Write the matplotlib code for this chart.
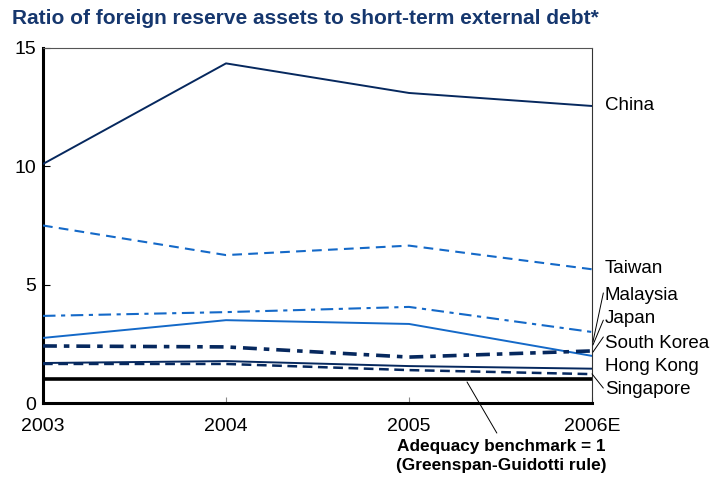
import matplotlib
matplotlib.use("Agg")
import matplotlib.pyplot as plt

plt.rcParams['font.family'] = ['Liberation Sans', 'DejaVu Sans']
plt.rcParams['lines.scale_dashes'] = False

years = ["2003", "2004", "2005", "2006E"]
china = [10.1, 14.35, 13.1, 12.55]
taiwan = [7.5, 6.25, 6.65, 5.65]
malaysia = [3.68, 3.84, 4.06, 3.0]
japan = [2.75, 3.5, 3.34, 1.99]
south_korea = [2.41, 2.37, 1.94, 2.2]
hong_kong = [1.69, 1.77, 1.56, 1.45]
singapore = [1.65, 1.65, 1.39, 1.22]
benchmark = [1, 1, 1, 1]

NAVY = '#06285e'
BLUE = '#1469c8'

fig = plt.figure(figsize=(7.13, 4.78), dpi=100)
ax = fig.add_axes([43/713, 75/478, (592-43)/713, (403-48)/478])
x = list(range(len(years)))

ax.plot(x, benchmark, color='black', lw=2.6, solid_capstyle='butt', zorder=2)
ax.plot(x, china, color=NAVY, lw=1.4, zorder=3)
ax.plot(x, taiwan, color=BLUE, lw=1.5, dashes=(7, 4.5), zorder=3)
ax.plot(x, malaysia, color=BLUE, lw=1.5, dashes=(9, 4, 3, 4), zorder=3)
ax.plot(x, japan, color=BLUE, lw=1.4, zorder=3)
ax.plot(x, south_korea, color=NAVY, lw=2.6, dashes=(10, 5, 4, 5), zorder=3)
ax.plot(x, hong_kong, color=NAVY, lw=1.4, zorder=3)
ax.plot(x, singapore, color=NAVY, lw=1.8, dashes=(7, 4), zorder=3)

ax.set_xlim(0, 3)
ax.set_ylim(0, 15)
ax.set_xticks(x)
ax.set_xticklabels(years)
ax.set_yticks([0, 5, 10, 15])
ax.tick_params(direction='in', length=5, width=0.8, labelsize=14, pad=5, colors='black')
ax.tick_params(axis='x', length=4, color='#888888', labelcolor='black', pad=11)
for s in ['left', 'bottom']:
    ax.spines[s].set_linewidth(2.2)
    ax.spines[s].set_color('black')
ax.spines['top'].set_linewidth(0.8)
ax.spines['top'].set_color('#555555')
ax.spines['right'].set_linewidth(0.8)
ax.spines['right'].set_color('#333333')

fig.text(12/713, 1 - 18/478, "Ratio of foreign reserve assets to short-term external debt*",
         fontsize=15, fontweight='bold', color='#16376e', va='center', ha='left')

# series labels: (name, label y, leader start point or None, leader end y)
lx = 3.07
labels = [("China", 12.59, None, None),
          ("Taiwan", 5.70, None, None),
          ("Malaysia", 4.56, (3.005, 2.58), 4.65),
          ("Japan", 3.55, (3.005, 2.45), 3.5),
          ("South Korea", 2.53, (3.005, 2.15), 2.79),
          ("Hong Kong", 1.56, None, None),
          ("Singapore", 0.59, (3.0, 1.23), 0.63)]
for name, ly, pt, ey in labels:
    ax.text(lx, ly, name, fontsize=13.5, va='center', ha='left', clip_on=False)
    if pt is not None:
        ax.annotate("", xy=pt, xytext=(3.062, ey),
                    arrowprops=dict(arrowstyle='-', lw=0.7, color='black',
                                    shrinkA=0, shrinkB=0), annotation_clip=False)

ax.annotate("", xy=(2.317, 0.89), xytext=(2.48, -1.27),
            arrowprops=dict(arrowstyle='-', lw=0.7, color='black', shrinkA=0, shrinkB=0),
            annotation_clip=False)
fig.text(501/713, 1 - 456/478, "Adequacy benchmark = 1\n(Greenspan-Guidotti rule)",
         fontsize=12.4, fontweight='bold', ha='center', va='center', linespacing=1.35)

fig.savefig("out.png", dpi=100)
